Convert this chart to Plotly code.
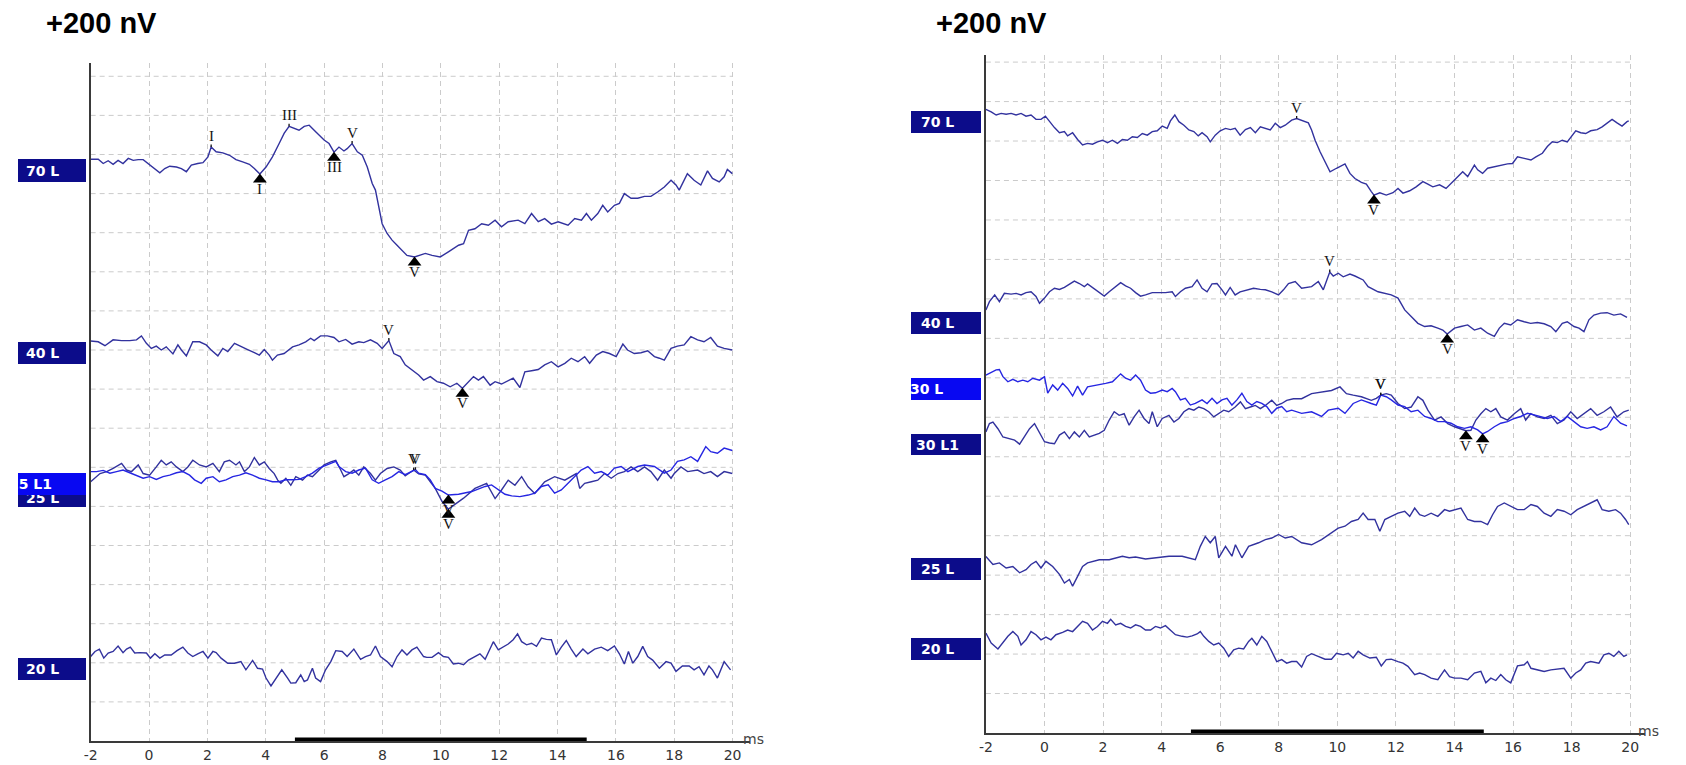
import numpy as np
import plotly.graph_objects as go

# ---------------------------------------------------------------
# ABR traces: time (ms) and amplitude (nV, relative to trace start)
# ---------------------------------------------------------------

# left recording
L70_T = [-2.00,-1.74,-1.57,-1.40,-1.23,-1.06,-0.89,-0.71,-0.54,-0.37,
         -0.20,-0.03,0.14,0.37,0.54,0.71,0.94,1.11,1.28,1.45,
         1.67,1.85,2.02,2.13,2.30,2.53,2.76,2.98,3.21,3.44,
         3.61,3.80,4.01,4.23,4.46,4.63,4.80,4.97,5.14,5.32,
         5.49,5.66,5.83,6.00,6.17,6.34,6.51,6.68,6.79,6.96,
         7.14,7.31,7.48,7.65,7.76,7.87,7.99,8.16,8.33,8.50,
         8.67,8.84,9.10,9.47,9.70,9.98,10.26,10.61,10.78,10.95,
         11.17,11.40,11.63,11.86,12.08,12.31,12.65,12.88,13.11,13.34,
         13.56,13.79,14.02,14.36,14.59,14.82,14.99,15.16,15.38,15.55,
         15.72,15.95,16.12,16.29,16.52,16.75,16.98,17.20,17.43,17.66,
         17.89,18.06,18.17,18.45,18.68,18.91,19.14,19.31,19.54,19.71,
         19.82,19.99]
L70_A = [0,0,-11,-4,-13,-3,-11,2,-3,-1,
         -1,-11,-20,-35,-24,-18,-20,-24,-32,-15,
         -11,-9,6,31,19,16,10,-1,-7,-13,
         -24,-38,-20,6,40,66,84,79,74,84,
         87,74,61,49,40,18,31,21,27,40,
         19,10,-20,-62,-79,-122,-165,-190,-207,-220,
         -233,-246,-250,-241,-246,-250,-237,-220,-216,-182,
         -178,-165,-169,-156,-173,-160,-156,-165,-139,-160,
         -152,-166,-160,-169,-152,-156,-139,-156,-139,-118,
         -135,-118,-113,-88,-100,-100,-95,-95,-84,-71,
         -54,-66,-79,-37,-54,-66,-30,-49,-58,-45,
         -26,-37]

L40_T = [-2.00,-1.74,-1.51,-1.23,-0.94,-0.66,-0.43,-0.26,-0.09,0.08,
         0.25,0.42,0.59,0.82,0.99,1.11,1.28,1.50,1.73,1.96,
         2.13,2.36,2.53,2.70,2.93,3.15,3.38,3.61,3.78,3.95,
         4.12,4.23,4.40,4.63,4.80,4.92,5.14,5.37,5.54,5.66,
         5.88,6.11,6.34,6.51,6.74,6.96,7.19,7.36,7.59,7.82,
         7.99,8.22,8.39,8.61,8.78,9.01,9.24,9.41,9.64,9.87,
         10.09,10.32,10.55,10.74,10.95,11.12,11.29,11.46,11.69,11.86,
         12.08,12.26,12.48,12.71,12.88,13.11,13.34,13.56,13.79,14.02,
         14.25,14.47,14.70,14.93,15.10,15.33,15.55,15.78,16.01,16.24,
         16.40,16.63,16.86,17.09,17.32,17.49,17.66,17.89,18.11,18.34,
         18.57,18.80,19.02,19.25,19.48,19.71,19.99]
L40_A = [0,-2,-12,3,1,1,3,13,-6,-19,
         -13,-23,-15,-33,-10,-23,-38,-2,-2,-10,
         -23,-38,-19,-27,-6,-13,-22,-30,-36,-22,
         -36,-49,-36,-32,-23,-15,-10,-2,7,1,
         13,13,9,-2,4,-8,-2,-4,3,-6,
         -19,1,-32,-40,-61,-74,-87,-100,-91,-104,
         -108,-117,-108,-121,-104,-91,-100,-91,-113,-104,
         -110,-104,-95,-119,-79,-76,-73,-61,-53,-66,
         -57,-44,-53,-40,-57,-36,-27,-32,-40,-8,
         -23,-32,-30,-25,-40,-44,-49,-19,-13,-10,
         11,3,-2,9,-13,-19,-23]

L25L1_T = [-2.00,-1.80,-1.57,-1.34,-1.11,-0.89,-0.66,-0.43,-0.20,0.02,
           0.25,0.48,0.71,0.94,1.16,1.39,1.56,1.79,1.96,2.19,
           2.41,2.64,2.87,3.10,3.32,3.55,3.78,4.01,4.23,4.46,
           4.69,4.92,5.14,5.37,5.60,5.83,6.06,6.23,6.40,6.51,
           6.74,6.96,7.19,7.42,7.65,7.87,8.10,8.33,8.56,8.78,
           9.13,9.24,9.47,9.64,9.81,10.04,10.26,10.61,11.06,11.52,
           11.74,11.97,12.20,12.43,12.71,13.00,13.22,13.45,13.68,13.90,
           14.13,14.36,14.59,14.81,15.04,15.27,15.50,15.72,15.95,16.18,
           16.41,16.75,16.98,17.32,17.66,17.89,18.11,18.34,18.57,18.80,
           19.08,19.25,19.48,19.71,19.99]
L25L1_A = [0,0,3,-4,0,4,-3,-9,-17,-13,
           -20,-13,-9,-3,0,-9,-21,-30,-17,-13,
           -26,-21,-13,-9,-3,-9,-17,-21,-26,-26,
           -21,-21,-20,-13,-4,9,17,21,26,13,
           0,-4,4,9,-21,-30,-21,-13,0,-8,
           5,-4,-8,-21,-43,-50,-60,-58,-51,-38,
           -34,-47,-58,-62,-64,-60,-55,-38,-34,-55,
           -47,-30,-13,4,13,-4,0,-9,9,13,
           0,13,17,13,-4,4,26,30,38,26,
           64,51,47,60,54]

L25_T = [-2.00,-1.85,-1.68,-1.45,-1.23,-0.94,-0.77,-0.60,-0.37,-0.20,
         0.02,0.25,0.42,0.59,0.76,0.94,1.16,1.33,1.50,1.73,
         1.96,2.19,2.41,2.58,2.76,2.98,3.10,3.27,3.44,3.61,
         3.78,3.95,4.12,4.29,4.41,4.52,4.69,4.86,5.03,5.26,
         5.43,5.60,5.77,6.00,6.23,6.40,6.57,6.68,6.85,7.02,
         7.19,7.36,7.59,7.76,7.93,8.16,8.39,8.61,8.78,9.07,
         9.24,9.47,9.64,9.81,10.04,10.26,10.78,11.17,11.57,11.86,
         12.08,12.31,12.54,12.77,12.99,13.22,13.56,13.90,14.25,14.47,
         14.64,14.76,14.93,15.16,15.38,15.61,15.84,16.07,16.29,16.52,
         16.75,16.98,17.20,17.43,17.66,17.89,18.00,18.23,18.46,18.80,
         19.02,19.25,19.48,19.71,19.99]
L25_A = [0,9,21,26,34,47,30,26,43,21,
         17,38,55,43,51,38,26,38,55,43,
         38,47,26,51,55,43,51,26,38,62,
         43,51,34,21,4,-4,9,-9,13,4,
         17,13,26,43,51,55,30,13,21,30,
         17,38,21,4,21,34,38,30,15,30,
         20,17,0,-17,-50,-70,-42,-17,-4,-43,
         -21,4,-9,13,-13,-30,0,13,4,13,
         21,-17,-4,0,4,21,9,21,26,38,
         26,38,26,4,30,9,21,38,26,30,
         21,26,13,26,21]

L20_T = [-2.00,-1.85,-1.70,-1.55,-1.40,-1.23,-1.06,-0.89,-0.77,-0.64,
         -0.49,-0.32,-0.09,0.05,0.20,0.37,0.54,0.76,0.96,1.16,
         1.33,1.50,1.67,1.85,2.02,2.19,2.30,2.47,2.70,2.93,
         3.15,3.32,3.55,3.72,3.89,4.01,4.18,4.35,4.55,4.75,
         4.86,5.03,5.20,5.32,5.43,5.60,5.71,5.88,6.05,6.23,
         6.40,6.62,6.79,7.02,7.25,7.42,7.59,7.76,7.93,8.16,
         8.33,8.50,8.67,8.84,9.01,9.18,9.41,9.52,9.70,9.92,
         10.09,10.26,10.43,10.60,10.78,10.95,11.17,11.34,11.52,11.69,
         11.80,11.97,12.14,12.31,12.48,12.63,12.77,12.94,13.11,13.28,
         13.45,13.62,13.79,13.96,14.13,14.30,14.47,14.64,14.87,15.04,
         15.27,15.50,15.72,15.95,16.12,16.29,16.43,16.58,16.75,16.92,
         17.09,17.26,17.49,17.72,17.89,18.06,18.28,18.51,18.68,18.85,
         19.02,19.19,19.31,19.48,19.71,19.93]
L20_A = [0,13,19,-4,9,13,27,10,19,24,
         9,10,9,-4,7,-4,4,4,15,24,
         9,0,7,13,-4,13,10,-4,-17,-17,
         -13,-34,-10,-30,-32,-55,-75,-55,-34,-55,
         -68,-67,-47,-64,-60,-30,-55,-64,-34,-13,
         15,13,0,19,-7,0,4,27,0,-13,
         -26,0,17,4,17,24,0,-2,-2,10,
         0,-2,-19,-17,-21,-9,0,7,-7,19,
         38,17,24,32,43,58,38,30,34,26,
         47,44,43,4,24,41,19,0,19,7,
         19,24,15,27,7,-19,13,-17,0,26,
         0,-9,-30,-13,-17,-38,-24,-24,-34,-26,
         -47,-24,-34,-55,-13,-34]

# right recording
R70_T = [-2.00,-1.82,-1.65,-1.48,-1.31,-1.14,-0.97,-0.80,-0.63,-0.46,
         -0.29,-0.12,0.03,0.17,0.34,0.51,0.68,0.79,0.96,1.13,
         1.30,1.47,1.64,1.81,1.98,2.15,2.32,2.49,2.66,2.83,
         3.00,3.17,3.34,3.51,3.68,3.85,4.02,4.19,4.30,4.45,
         4.59,4.76,4.93,5.10,5.25,5.38,5.55,5.66,5.83,6.00,
         6.18,6.35,6.51,6.68,6.86,7.03,7.20,7.37,7.54,7.71,
         7.88,8.05,8.22,8.44,8.61,8.84,9.01,9.12,9.24,9.41,
         9.58,9.75,9.97,10.26,10.43,10.60,10.82,10.99,11.16,11.25,
         11.45,11.67,11.90,12.07,12.24,12.47,12.69,12.92,13.09,13.26,
         13.49,13.71,13.94,14.11,14.28,14.45,14.68,14.79,14.96,15.13,
         15.36,15.58,15.81,15.98,16.15,16.38,16.61,16.78,17.00,17.17,
         17.34,17.51,17.68,17.85,18.02,18.14,18.31,18.48,18.65,18.87,
         19.04,19.21,19.38,19.55,19.72,19.89,19.95]
R70_A = [0,-6,-14,-10,-12,-10,-14,-10,-17,-14,
         -25,-25,-17,-31,-46,-59,-56,-67,-59,-76,
         -90,-86,-88,-82,-78,-84,-78,-86,-76,-78,
         -69,-71,-61,-65,-56,-54,-42,-48,-29,-14,
         -31,-40,-52,-56,-67,-59,-69,-82,-65,-54,
         -48,-51,-48,-65,-51,-46,-59,-44,-48,-52,
         -35,-46,-40,-27,-23,-29,-34,-52,-78,-107,
         -132,-158,-149,-138,-162,-175,-185,-189,-208,-217,
         -211,-217,-211,-200,-212,-206,-196,-183,-189,-196,
         -191,-200,-183,-170,-158,-170,-141,-153,-162,-149,
         -145,-141,-138,-137,-120,-124,-128,-120,-111,-94,
         -82,-84,-78,-82,-65,-54,-59,-61,-54,-51,
         -44,-35,-25,-34,-42,-31,-29]

R40_T = [-2.00,-1.88,-1.70,-1.54,-1.37,-1.14,-0.97,-0.80,-0.63,-0.46,
         -0.29,-0.17,0.00,0.17,0.34,0.51,0.68,0.85,1.02,1.19,
         1.36,1.47,1.64,1.87,2.04,2.21,2.43,2.60,2.77,2.94,
         3.11,3.28,3.45,3.68,3.91,4.13,4.36,4.47,4.64,4.81,
         5.04,5.21,5.38,5.55,5.72,5.89,6.06,6.18,6.34,6.51,
         6.68,6.91,7.14,7.37,7.54,7.76,7.99,8.16,8.33,8.56,
         8.78,9.12,9.35,9.52,9.74,9.86,10.03,10.20,10.43,10.60,
         10.77,10.88,11.05,11.39,11.84,12.07,12.30,12.52,12.75,12.98,
         13.20,13.43,13.60,13.75,14.00,14.22,14.45,14.68,14.90,15.13,
         15.36,15.53,15.70,15.92,16.15,16.38,16.60,16.83,17.06,17.29,
         17.46,17.68,17.85,18.08,18.25,18.42,18.59,18.76,18.99,19.21,
         19.44,19.67,19.89]
R40_A = [0,21,38,21,42,40,42,38,44,46,
         34,17,30,46,55,52,57,66,73,67,
         59,66,57,46,35,46,59,69,61,55,
         44,35,38,44,44,44,46,34,46,55,
         59,76,55,46,66,67,51,38,57,38,
         46,51,55,52,51,46,38,51,67,72,
         55,59,72,51,96,86,93,84,91,86,
         80,76,59,46,38,30,0,-17,-34,-42,
         -40,-46,-51,-61,-46,-42,-38,-51,-46,-59,
         -67,-46,-34,-38,-25,-30,-34,-32,-35,-42,
         -55,-34,-30,-42,-46,-55,-25,-13,-8,-7,
         -13,-10,-19]

R30_T = [-2.00,-1.82,-1.65,-1.54,-1.42,-1.25,-1.08,-0.91,-0.74,-0.57,
         -0.40,-0.17,0.00,0.11,0.28,0.45,0.62,0.79,0.96,1.13,
         1.30,1.47,1.64,1.87,2.09,2.32,2.49,2.60,2.77,2.94,
         3.11,3.28,3.45,3.62,3.79,4.02,4.19,4.36,4.47,4.64,
         4.81,4.98,5.15,5.38,5.55,5.72,5.89,6.06,6.23,6.40,
         6.57,6.74,6.91,7.08,7.25,7.42,7.59,7.76,7.93,8.10,
         8.27,8.44,8.78,9.12,9.46,9.69,10.03,10.26,10.54,10.82,
         11.16,11.33,11.48,11.67,11.84,12.07,12.30,12.52,12.75,12.98,
         13.20,13.43,13.66,13.88,14.11,14.34,14.56,14.79,14.96,15.13,
         15.36,15.58,15.81,16.04,16.26,16.49,16.72,16.95,17.17,17.40,
         17.63,17.85,18.08,18.31,18.53,18.76,18.99,19.21,19.44,19.67,
         19.89]
R30_A = [0,6,13,14,-4,-17,-11,-17,-13,-17,
         -8,-13,-4,-46,-25,-38,-21,-34,-53,-28,
         -51,-30,-28,-25,-21,-17,-4,3,-8,-13,
         0,-13,-38,-46,-45,-38,-42,-34,-42,-63,
         -59,-76,-72,-63,-72,-59,-72,-63,-59,-76,
         -63,-46,-67,-76,-67,-72,-80,-97,-84,-80,
         -93,-89,-97,-93,-105,-89,-84,-97,-72,-63,
         -72,-76,-51,-55,-63,-76,-80,-93,-89,-105,
         -110,-118,-118,-122,-131,-135,-131,-139,-149,-143,
         -131,-122,-118,-110,-105,-97,-101,-105,-110,-105,
         -118,-105,-118,-131,-135,-131,-139,-131,-105,-122,
         -129]

R30L1_T = [-2.00,-1.88,-1.76,-1.59,-1.42,-1.25,-1.02,-0.85,-0.68,-0.51,
           -0.34,-0.17,0.00,0.17,0.34,0.51,0.68,0.85,1.02,1.19,
           1.36,1.53,1.70,1.87,2.04,2.21,2.38,2.55,2.72,2.89,
           3.06,3.23,3.40,3.57,3.68,3.85,4.02,4.25,4.42,4.59,
           4.76,4.93,5.10,5.27,5.44,5.61,5.78,5.95,6.12,6.29,
           6.51,6.69,6.86,7.03,7.20,7.37,7.54,7.76,7.93,8.10,
           8.27,8.50,8.78,9.12,9.46,9.80,10.09,10.31,10.54,10.82,
           11.16,11.33,11.48,11.67,11.84,12.07,12.30,12.52,12.75,12.92,
           13.09,13.32,13.54,13.77,14.00,14.22,14.39,14.56,14.73,14.90,
           15.07,15.24,15.41,15.58,15.81,16.04,16.26,16.43,16.60,16.83,
           17.06,17.29,17.51,17.74,17.97,18.19,18.42,18.65,18.87,19.10,
           19.33,19.55,19.78,19.95]
R30L1_A = [0,21,25,8,-13,-17,-21,-31,-13,8,
           21,-4,-25,-28,-30,-8,0,-17,0,-13,
           4,-13,-8,-4,4,30,51,42,46,17,
           38,55,34,21,51,13,34,42,25,34,
           51,59,55,63,59,51,38,46,55,51,
           63,76,59,63,67,59,67,80,67,72,
           80,84,84,97,101,105,114,97,93,89,
           80,85,93,97,93,72,59,63,89,80,
           55,30,38,21,13,8,3,4,30,46,
           59,51,59,38,30,46,59,30,46,38,
           34,42,21,30,51,34,46,59,42,51,
           63,38,51,55]

R25_T = [-2.00,-1.76,-1.54,-1.31,-1.08,-0.85,-0.63,-0.46,-0.29,-0.12,
         0.05,0.28,0.51,0.68,0.85,0.96,1.13,1.30,1.47,1.64,
         1.87,2.21,2.43,2.66,2.89,3.11,3.45,3.91,4.25,4.70,
         5.15,5.32,5.49,5.66,5.83,5.95,6.18,6.40,6.52,6.74,
         6.97,7.31,7.54,7.76,7.99,8.22,8.44,8.78,9.12,9.46,
         9.80,10.03,10.26,10.48,10.71,10.88,11.05,11.28,11.45,11.62,
         11.84,12.07,12.30,12.47,12.64,12.81,12.98,13.20,13.43,13.66,
         13.83,14.00,14.22,14.45,14.68,14.90,15.13,15.30,15.47,15.70,
         15.92,16.15,16.38,16.61,16.83,17.06,17.29,17.51,17.74,17.97,
         18.19,18.42,18.65,18.87,19.04,19.27,19.50,19.67,19.84,19.95]
R25_A = [0,-20,-16,-29,-25,-41,-33,-20,-12,-29,
         -12,-25,-45,-67,-58,-75,-50,-25,-16,-12,
         -8,-8,-3,1,-3,-1,-6,-3,1,1,
         -8,26,51,35,51,-3,26,1,30,-3,
         26,35,43,47,56,47,51,35,30,43,
         60,72,77,89,94,110,94,94,64,94,
         102,110,115,102,123,106,102,110,102,119,
         115,119,123,94,89,89,81,106,127,136,
         127,119,119,132,127,110,102,119,115,106,
         119,127,136,144,119,115,119,110,94,81]

R20_T = [-2.00,-1.82,-1.59,-1.42,-1.25,-1.08,-0.91,-0.80,-0.63,-0.46,
         -0.29,-0.12,0.05,0.22,0.39,0.62,0.79,0.96,1.13,1.30,
         1.47,1.64,1.81,1.98,2.15,2.26,2.43,2.60,2.77,2.94,
         3.11,3.28,3.45,3.62,3.79,3.96,4.13,4.30,4.47,4.70,
         4.87,5.04,5.21,5.32,5.44,5.61,5.78,5.95,6.12,6.29,
         6.46,6.63,6.80,6.97,7.08,7.25,7.42,7.59,7.76,7.93,
         8.10,8.27,8.44,8.61,8.78,8.95,9.12,9.35,9.58,9.80,
         9.97,10.20,10.37,10.54,10.71,10.88,11.11,11.33,11.50,11.67,
         11.84,12.07,12.24,12.41,12.64,12.81,12.98,13.20,13.43,13.66,
         13.83,14.00,14.22,14.45,14.68,14.90,15.07,15.24,15.41,15.58,
         15.75,15.92,16.04,16.15,16.38,16.49,16.61,16.83,17.06,17.29,
         17.51,17.74,17.97,18.14,18.31,18.48,18.65,18.93,19.10,19.27,
         19.44,19.61,19.78,19.89]
R20_A = [0,-25,-40,-25,-8,4,-8,-30,-17,4,
         -4,-17,-10,-17,-4,2,8,4,17,30,
         25,8,17,30,25,35,21,25,17,13,
         21,17,8,8,17,13,19,8,-4,-8,
         -10,-7,-2,4,-8,-21,-30,-25,-38,-59,
         -42,-38,-40,-21,-13,-30,-8,-21,-46,-72,
         -67,-76,-72,-72,-86,-59,-52,-59,-66,-66,
         -51,-55,-51,-63,-46,-55,-63,-61,-83,-67,
         -66,-72,-76,-84,-105,-101,-105,-114,-118,-93,
         -110,-114,-114,-118,-101,-97,-126,-114,-120,-105,
         -118,-126,-101,-83,-80,-72,-89,-93,-97,-93,
         -91,-89,-114,-101,-93,-76,-72,-76,-55,-51,
         -59,-46,-59,-55]

# stacking baseline of each trace on the display axis (nV)
BASELINE = {
    "L70": 1488, "L40": 1023, "L25L1": 689, "L25": 663, "L20": 216,
    "R70": 1580, "R40": 1072, "R30": 907, "R30L1": 763, "R25": 447, "R20": 253,
}

# key -> (panel, times, amplitudes, highlighted)
TRACES = {
    "L70": ("L", L70_T, L70_A, False),
    "L40": ("L", L40_T, L40_A, False),
    "L25": ("L", L25_T, L25_A, False),
    "L25L1": ("L", L25L1_T, L25L1_A, True),
    "L20": ("L", L20_T, L20_A, False),
    "R70": ("R", R70_T, R70_A, False),
    "R40": ("R", R40_T, R40_A, False),
    "R30L1": ("R", R30L1_T, R30L1_A, False),
    "R30": ("R", R30_T, R30_A, True),
    "R25": ("R", R25_T, R25_A, False),
    "R20": ("R", R20_T, R20_A, False),
}

# wave markers: (trace, latency ms, kind, wave label)
MARKERS = [
    ("L70", 2.13, "peak", "I"), ("L70", 4.80, "peak", "III"), ("L70", 6.96, "peak", "V"),
    ("L70", 3.80, "trough", "I"), ("L70", 6.34, "trough", "III"), ("L70", 9.10, "trough", "V"),
    ("L40", 8.22, "peak", "V"), ("L40", 10.74, "trough", "V"),
    ("L25", 9.07, "peak", "V"), ("L25", 10.26, "trough", "V"),
    ("L25L1", 9.13, "peak", "V"), ("L25L1", 10.26, "trough", "V"),
    ("R70", 8.61, "peak", "V"), ("R70", 11.25, "trough", "V"),
    ("R40", 9.74, "peak", "V"), ("R40", 13.75, "trough", "V"),
    ("R30", 11.48, "peak", "V"), ("R30", 14.96, "trough", "V"),
    ("R30L1", 11.48, "peak", "V"), ("R30L1", 14.39, "trough", "V"),
]

X_TICKS = list(range(-2, 21, 2))
GRID_LEVELS = list(range(100, 1701, 100))
STIM_WINDOW = (5, 15)

# ---------------------------------------------------------------
W, H = 1686, 765


def px(x):
    return x / W


def py(y):
    return 1 - y / H


PANELS = {
    "L": dict(xa="x", ya="y", xdom=[84 / W, 746.5 / W], ydom=[24 / H, 702 / H],
              xr=[-2, 20.61], yr=[0, 1734]),
    "R": dict(xa="x2", ya="y2", xdom=[983 / W, 1644.7 / W], ydom=[32 / H, 710 / H],
              xr=[-2, 20.5], yr=[0, 1718]),
}
for p in PANELS.values():
    # nV represented by one screen pixel on this panel
    p["nv_px"] = (p["yr"][1] - p["yr"][0]) / ((p["ydom"][1] - p["ydom"][0]) * H)

TRACE_DARK = "#32329e"
TRACE_BRIGHT = "#2626e2"
BOX_DARK = "#0c0c8a"
BOX_BRIGHT = "#0808f2"
AXIS_COLOR = "#3a3a3a"
GRID_COLOR = "#cbcbcb"

fig = go.Figure()

for key, (panel, t, a, hl) in TRACES.items():
    assert len(t) == len(a), key
    p = PANELS[panel]
    fig.add_trace(go.Scatter(
        x=t, y=np.asarray(a, float) + BASELINE[key], mode="lines",
        line=dict(color=TRACE_BRIGHT if hl else TRACE_DARK, width=1.4),
        xaxis=p["xa"], yaxis=p["ya"], showlegend=False, hoverinfo="skip",
    ))

tick_font = dict(family="DejaVu Sans", size=14, color="#333333")
axes = {}
for name, p in PANELS.items():
    sfx = "" if p["xa"] == "x" else "2"
    axes["xaxis" + sfx] = dict(
        domain=p["xdom"], range=p["xr"], anchor=p["ya"],
        tickvals=X_TICKS, ticktext=[str(v) for v in X_TICKS],
        showgrid=True, gridcolor=GRID_COLOR, griddash="5px,4px", gridwidth=1,
        zeroline=False, showline=True, linecolor=AXIS_COLOR, linewidth=2,
        ticks="", tickfont=tick_font, fixedrange=True,
    )
    axes["yaxis" + sfx] = dict(
        domain=p["ydom"], range=p["yr"], anchor=p["xa"],
        showgrid=False, zeroline=False, showline=True, linecolor=AXIS_COLOR,
        linewidth=2, showticklabels=False, ticks="", fixedrange=True,
    )

shapes = []
for name, p in PANELS.items():
    for lv in GRID_LEVELS:
        shapes.append(dict(type="line", xref=p["xa"], yref=p["ya"],
                           x0=-2, x1=20, y0=lv, y1=lv, layer="below",
                           line=dict(color=GRID_COLOR, width=1, dash="5px,4px")))
    # stimulus window bar on the time axis
    shapes.append(dict(type="rect", xref=p["xa"], yref=p["ya"],
                       x0=STIM_WINDOW[0], x1=STIM_WINDOW[1], y0=0, y1=3.5 * p["nv_px"],
                       fillcolor="black", line=dict(width=0), layer="above"))

annotations = []

# scale captions
for x0 in (37, 931):
    annotations.append(dict(text="<b>+200 nV</b>", x=px(x0), y=py(23), xref="paper", yref="paper",
                            xanchor="left", yanchor="middle", showarrow=False,
                            font=dict(family="Liberation Sans", size=29, color="black")))

# time unit
for x0, y0 in ((737, 739), (1636, 731)):
    annotations.append(dict(text="ms", x=px(x0), y=py(y0), xref="paper", yref="paper",
                            xanchor="left", yanchor="middle", showarrow=False,
                            font=dict(family="DejaVu Sans", size=14, color="#444444")))

label_font = dict(family="DejaVu Sans", size=14, color="white")


def label_box(x0, x1, y0, y1, color):
    annotations.append(dict(text="&nbsp;", x=px(x0), y=py(y0), xref="paper", yref="paper",
                            xanchor="left", yanchor="top", showarrow=False,
                            width=x1 - x0, height=y1 - y0, bgcolor=color,
                            borderpad=0, borderwidth=0, font=dict(size=8)))


def label_text(text, xc, yc):
    annotations.append(dict(text="<b>%s</b>" % text, x=px(xc), y=py(yc), xref="paper", yref="paper",
                            xanchor="center", yanchor="middle", showarrow=False,
                            borderpad=0, borderwidth=0, font=label_font))


def label_text_right(text, xr, yc):
    # text ends at xr; anything running past the box's left edge sits on white paper
    annotations.append(dict(text="<b>%s</b>" % text, x=px(xr), y=py(yc), xref="paper", yref="paper",
                            xanchor="right", yanchor="middle", showarrow=False,
                            borderpad=0, borderwidth=0, font=label_font))


# left panel trace labels
label_box(11, 79, 159, 182, BOX_DARK); label_text("70 L", 35.5, 170.5)
label_box(11, 79, 342, 364, BOX_DARK); label_text("40 L", 35.5, 353)
label_box(11, 79, 485, 507, BOX_DARK); label_text("25 L", 35.5, 498)
label_box(11, 79, 473, 495, BOX_BRIGHT); label_text_right("25 L1", 45, 484)
label_box(11, 79, 658, 680, BOX_DARK); label_text("20 L", 35.5, 669)

# right panel trace labels
label_box(908, 978, 111, 133, BOX_DARK); label_text("70 L", 934.5, 122)
label_box(908, 978, 312, 334, BOX_DARK); label_text("40 L", 934.5, 323)
label_box(908, 978, 378, 400, BOX_BRIGHT); label_text_right("30 L", 940, 389)
label_box(908, 978, 434, 455, BOX_DARK); label_text("30 L1", 934.5, 444.5)
label_box(908, 978, 558, 580, BOX_DARK); label_text("25 L", 934.5, 569)
label_box(908, 978, 638, 660, BOX_DARK); label_text("20 L", 934.5, 649)

# wave peak / trough markers
mark_font = dict(family="Liberation Serif", size=15, color="#151515")
tri = {"L": ([], []), "R": ([], [])}
for key, lat, kind, lab in MARKERS:
    panel, t, a, _ = TRACES[key]
    p = PANELS[panel]
    yv = float(np.interp(lat, t, a)) + BASELINE[key]
    if kind == "peak":
        annotations.append(dict(x=lat, y=yv, xref=p["xa"], yref=p["ya"], text=lab,
                                showarrow=True, arrowhead=0, arrowwidth=1.3, arrowcolor="#151515",
                                ax=0, ay=-11, standoff=0, borderpad=0, font=mark_font))
    else:
        # filled triangle just under the trough, its tip touching the trace
        tri[panel][0].append(lat)
        tri[panel][1].append(yv - 5.5 * p["nv_px"])
        annotations.append(dict(x=lat, y=yv, xref=p["xa"], yref=p["ya"], text=lab,
                                showarrow=False, yanchor="top", yshift=-6, borderpad=0,
                                font=mark_font))

for panel, (xs, ys) in tri.items():
    p = PANELS[panel]
    fig.add_trace(go.Scatter(
        x=xs, y=ys, mode="markers", xaxis=p["xa"], yaxis=p["ya"],
        marker=dict(symbol="triangle-up", size=12, color="black", line=dict(width=0)),
        showlegend=False, hoverinfo="skip", cliponaxis=False,
    ))

fig.update_layout(
    width=W, height=H, autosize=False,
    margin=dict(l=0, r=0, t=0, b=0),
    paper_bgcolor="white", plot_bgcolor="white",
    showlegend=False, shapes=shapes, annotations=annotations,
    **axes,
)

fig.write_html("out.html", config={"displayModeBar": False})
